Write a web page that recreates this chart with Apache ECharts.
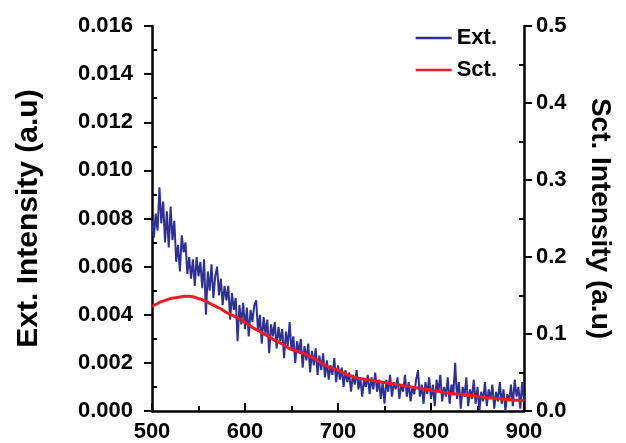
<!DOCTYPE html>
<html>
<head>
<meta charset="utf-8">
<script src="https://cdn.jsdelivr.net/npm/echarts@6/dist/echarts.min.js"></script>
<style>
html,body{margin:0;padding:0;background:#fff;}
#c{width:626px;height:443px;}
</style>
</head>
<body>
<div id="c"></div>
<script>
// Wavelength grid (nm)
const extStart = 500, extStep = 2;
const sctStart = 500, sctStep = 5;

// Ext. intensity (left axis, a.u), every 2 nm from 500 to 900
const extValues = [
0.0079,0.0072,0.0082,0.0075,0.0093,0.0078,0.0087,0.0070,0.0083,0.0068,
0.0085,0.0071,0.0079,0.0062,0.0069,0.0058,0.0073,0.0066,0.0070,0.0057,
0.0064,0.0055,0.0063,0.0052,0.0064,0.0056,0.0062,0.0051,0.0063,0.0040,
0.0058,0.0050,0.0061,0.0047,0.0056,0.0060,0.0048,0.0055,0.0044,0.0052,
0.0046,0.0052,0.0038,0.0049,0.0042,0.0047,0.0029,0.0044,0.0036,0.0045,
0.0034,0.0043,0.0031,0.0042,0.0037,0.0044,0.0046,0.0033,0.0040,0.0028,
0.0039,0.0032,0.0038,0.0024,0.0036,0.0031,0.0037,0.0026,0.0035,0.0029,
0.0034,0.0022,0.0033,0.0027,0.0037,0.0025,0.0031,0.0020,0.0029,0.0024,
0.0030,0.0018,0.0027,0.0021,0.0028,0.0016,0.0025,0.0019,0.0026,0.0015,
0.0023,0.0017,0.0024,0.0014,0.0021,0.0013,0.0019,0.0015,0.0022,0.0012,
0.0019,0.0013,0.0018,0.0010,0.0017,0.0012,0.0016,0.0008,0.0015,0.0011,
0.0017,0.0009,0.0014,0.0006,0.0013,0.0010,0.0015,0.0007,0.0014,0.0009,
0.0016,0.0008,0.0013,0.0005,0.0012,0.0003,0.0013,0.0008,0.0015,0.0006,
0.0012,0.0009,0.0014,0.0005,0.0011,0.0008,0.0015,0.0006,0.0012,0.0004,
0.0010,0.0007,0.0013,0.0017,0.0006,0.0011,0.0003,0.0012,0.0007,0.0014,
0.0005,0.0011,0.0002,0.0013,0.0008,0.0015,0.0004,0.0010,0.0006,0.0014,
0.0003,0.0011,0.0007,0.0020,0.0005,0.0012,0.0001,0.0010,0.0006,0.0014,
0.0002,0.0009,0.0005,0.0013,0.0003,0.0010,0.0000,0.0008,0.0004,0.0012,
0.0002,0.0009,0.0005,0.0011,0.0001,0.0008,0.0004,0.0012,0.0003,0.0009,
0.0000,0.0007,0.0004,0.0011,0.0002,0.0013,0.0006,0.0010,0.0001,0.0012,
0.0004
];

// Sct. intensity (right axis, a.u), every 5 nm from 500 to 900
const sctValues = [
0.136,0.139,0.142,0.144,0.146,0.147,0.148,0.149,0.149,0.148,
0.146,0.144,0.141,0.138,0.135,0.132,0.128,0.125,0.122,0.119,
0.115,0.111,0.107,0.104,0.100,0.097,0.093,0.090,0.087,0.083,
0.080,0.078,0.076,0.074,0.071,0.068,0.064,0.060,0.057,0.055,
0.053,0.050,0.047,0.045,0.043,0.042,0.041,0.040,0.039,0.038,
0.037,0.036,0.035,0.034,0.033,0.032,0.031,0.030,0.029,0.028,
0.027,0.026,0.025,0.024,0.023,0.022,0.022,0.021,0.020,0.020,
0.019,0.018,0.017,0.017,0.016,0.016,0.015,0.015,0.014,0.014,
0.013
];

const seriesNames = ['Ext.', 'Sct.'];
const xTicks = [500, 600, 700, 800, 900];
const leftTicks = ['0.000','0.002','0.004','0.006','0.008','0.010','0.012','0.014','0.016'];
const rightTicks = ['0.0','0.1','0.2','0.3','0.4','0.5'];
const leftTitle = 'Ext. Intensity (a.u)';
const rightTitle = 'Sct. Intensity (a.u)';

const extData = extValues.map((v, i) => [extStart + i * extStep, v]);
const sctData = sctValues.map((v, i) => [sctStart + i * sctStep, v]);

const FONT = 'Liberation Sans, Arial, sans-serif';
function lab(extra) { return Object.assign({color:'#000', fontFamily:FONT, fontWeight:'bold', fontSize:22}, extra || {}); }
function blk(w) { return {color:'#000', width:w}; }
function pick(arr, step) {
  return function (v) {
    const k = Math.round(Number(v) / step);
    const s = arr[k];
    return (s === undefined || s === null) ? '' : String(s);
  };
}
const LMIN = 0, LMAX = 0.016, LINT = 0.002;
const RMIN = 0, RMAX = 0.5, RINT = 0.1;

// label-only axis
function labelAxis(pos, min, max, interval, extra) {
  return Object.assign({
    type:'value', position:pos, min:min, max:max, interval:interval,
    axisLine:{show:false}, axisTick:{show:false}, splitLine:{show:false}
  }, extra);
}
// line + tick axis without labels
function lineAxis(pos, min, max, interval, extra) {
  return Object.assign({
    type:'value', position:pos, min:min, max:max, interval:interval,
    axisLabel:{show:false}, splitLine:{show:false}
  }, extra);
}

const chart = echarts.init(document.getElementById('c'));
chart.setOption({
  animation:false,
  grid:{left:152, right:102, top:26, bottom:31},
  legend:{
    data:seriesNames,
    orient:'vertical',
    right:124, top:22,
    itemWidth:36, itemHeight:14, itemGap:10,
    textStyle:lab(),
    icon:'path://M0,6 L36,6 L36,8.5 L0,8.5 Z'
  },
  xAxis:[
    labelAxis('bottom', xTicks[0], xTicks[xTicks.length-1], 100, {
      axisLabel:lab({margin:10})
    }),
    lineAxis('bottom', xTicks[0], xTicks[xTicks.length-1], 100, {
      axisLine:{show:true, onZero:false, lineStyle:blk(2.5)},
      axisTick:{show:true, inside:true, length:8, lineStyle:blk(2)},
      minorTick:{show:true, splitNumber:2, length:5, lineStyle:blk(2)}
    })
  ],
  yAxis:[
    labelAxis('left', LMIN, LMAX, LINT, {
      name:leftTitle, nameLocation:'middle', nameGap:108,
      nameTextStyle:{color:'#000', fontFamily:FONT, fontWeight:'bold', fontSize:30},
      axisLabel:lab({margin:19, formatter:pick(leftTicks, LINT)})
    }),
    labelAxis('right', RMIN, RMAX, RINT, {
      name:rightTitle, nameLocation:'middle', nameGap:62, nameRotate:-90,
      nameTextStyle:{color:'#000', fontFamily:FONT, fontWeight:'bold', fontSize:28},
      axisLabel:lab({margin:12, formatter:pick(rightTicks, RINT)})
    }),
    lineAxis('left', LMIN, LMAX, LINT, {
      axisLine:{show:true, onZero:false, lineStyle:blk(2.5)},
      axisTick:{show:true, inside:false, length:8, lineStyle:blk(2)}
    }),
    lineAxis('left', LMIN, LMAX, LINT, {
      axisLine:{show:false}, axisTick:{show:false, inside:true},
      minorTick:{show:true, splitNumber:2, length:5, lineStyle:blk(2)}
    }),
    lineAxis('right', RMIN, RMAX, RINT, {
      axisLine:{show:true, onZero:false, lineStyle:blk(2.5)},
      axisTick:{show:true, inside:false, length:8, lineStyle:blk(2)}
    }),
    lineAxis('right', RMIN, RMAX, RINT, {
      axisLine:{show:false}, axisTick:{show:false, inside:true},
      minorTick:{show:true, splitNumber:2, length:5, lineStyle:blk(2)}
    })
  ],
  series:[{
    name:seriesNames[0], type:'line', xAxisIndex:0, yAxisIndex:0,
    data:extData, symbol:'none',
    lineStyle:{color:'#2E3192', width:2}, itemStyle:{color:'#2E3192'}
  },{
    name:seriesNames[1], type:'line', xAxisIndex:0, yAxisIndex:1,
    data:sctData, symbol:'none', smooth:0.3,
    lineStyle:{color:'#ED1C24', width:3}, itemStyle:{color:'#ED1C24'}
  }]
});
</script>
</body>
</html>
